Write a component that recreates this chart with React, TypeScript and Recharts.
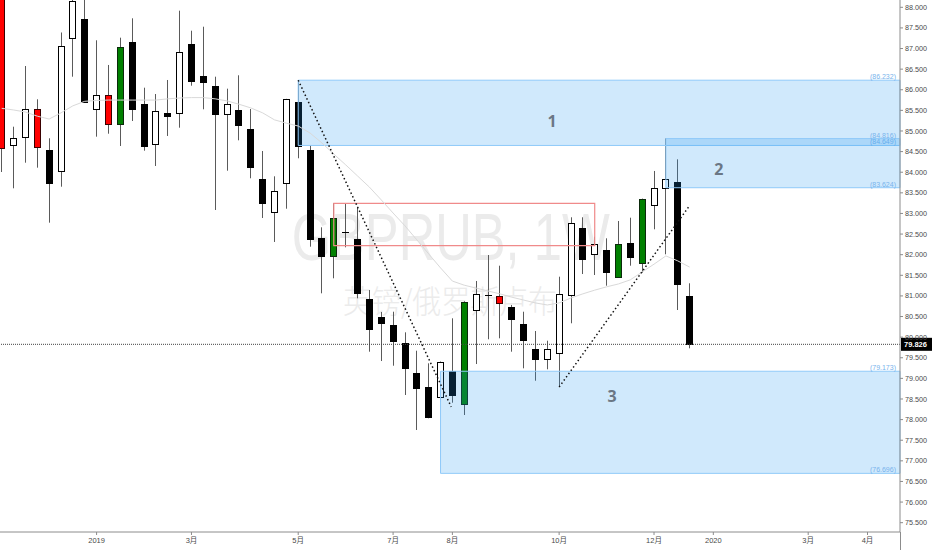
import React from 'react';
import {
  ComposedChart,
  Bar,
  Line,
  XAxis,
  YAxis,
  ReferenceArea,
  ReferenceLine,
  ReferenceDot,
} from 'recharts';

const W = 932;
const H = 550;

// ---- weekly candles (index 0 .. 58) ----
const opens = [
  89.0, 84.653, 84.854, 85.533, 84.546, 84.022, 87.248, 87.709, 85.533, 85.88,
  85.162, 87.151, 85.662, 84.684, 85.444, 85.436, 87.11, 86.326, 86.084, 85.405,
  85.509, 85.048, 83.828, 83.035, 83.746, 85.71, 84.546, 82.397, 81.975, 82.55,
  82.38, 80.932, 80.496, 80.287, 79.865, 79.13, 78.798, 78.541, 79.173, 78.378,
  80.658, 81.03, 81.005, 80.724, 80.319, 79.712, 79.47, 79.623, 81.022, 82.64,
  82.017, 82.114, 81.466, 82.283, 81.791, 83.198, 83.624, 83.763, 80.998,
];
const highs = [
  89.3, 85.104, 86.576, 85.769, 84.823, 87.389, 88.4, 88.4, 87.2, 86.601,
  87.263, 87.733, 86.05, 85.897, 86.237, 87.918, 87.432, 87.529, 86.317, 86.026,
  86.351, 85.533, 84.515, 83.901, 85.78, 86.232, 84.66, 82.664, 83.246, 83.229,
  83.164, 81.143, 80.61, 80.617, 80.117, 79.671, 79.365, 79.41, 80.457, 80.87,
  81.362, 81.992, 81.733, 80.78, 80.617, 80.149, 79.914, 81.466, 82.907, 82.907,
  82.436, 82.397, 82.817, 82.897, 83.36, 84.03, 84.816, 84.313, 81.306,
];
const lows = [
  84.005, 83.61, 84.231, 84.11, 82.776, 83.649, 86.317, 85.69, 84.862, 84.934,
  84.636, 85.242, 84.522, 84.151, 84.879, 85.08, 86.098, 85.526, 83.084, 84.037,
  84.774, 83.853, 82.89, 82.308, 83.115, 84.338, 82.194, 81.063, 81.427, 82.179,
  80.942, 79.647, 79.421, 79.307, 78.597, 77.748, 78.032, 78.427, 78.41, 78.112,
  79.348, 79.948, 79.972, 79.647, 79.244, 78.943, 79.22, 78.798, 80.336, 81.531,
  81.507, 81.248, 81.46, 81.733, 81.563, 82.616, 82.009, 80.658, 79.729,
];
const closes = [
  84.595, 84.823, 85.526, 84.612, 83.731, 87.069, 88.153, 85.696, 85.88, 85.162,
  87.03, 85.526, 84.636, 85.492, 85.364, 86.909, 86.22, 86.181, 85.405, 85.662,
  85.138, 84.134, 83.253, 83.537, 85.769, 84.643, 82.373, 81.975, 82.897, 82.54,
  81.078, 80.197, 80.336, 79.906, 79.244, 78.774, 78.056, 79.404, 78.597, 80.86,
  81.054, 81.02, 80.821, 80.44, 79.931, 79.47, 79.705, 81.046, 82.761, 81.888,
  82.252, 81.573, 82.259, 81.951, 83.35, 83.617, 83.836, 81.282, 79.826,
];
const movingAverage = [
  85.55, 85.51, 85.46, 85.36, 85.29, 85.44, 85.61, 85.72, 85.74, 85.75,
  85.75, 85.75, 85.75, 85.75, 85.78, 85.8, 85.81, 85.81, 85.78, 85.73,
  85.65, 85.56, 85.44, 85.27, 85.19, 85.12, 84.95, 84.71, 84.44, 84.18,
  83.91, 83.64, 83.33, 83.01, 82.7, 82.36, 82.02, 81.68, 81.36, 81.26,
  81.19, 81.12, 81.05, 80.97, 80.9, 80.83, 80.78, 80.83, 80.95, 81.05,
  81.14, 81.22, 81.29, 81.39, 81.58, 81.77, 81.97, 81.85, 81.7,
];
// candle colouring (style list, separate from the values)
const candleTones = [
  'r', 'w', 'w', 'r', 'b', 'w', 'w', 'b', 'w', 'r',
  'g', 'b', 'b', 'w', 'b', 'w', 'b', 'b', 'b', 'w',
  'b', 'b', 'b', 'w', 'w', 'b', 'b', 'b', 'g', 'w',
  'b', 'b', 'b', 'b', 'b', 'b', 'b', 'w', 'b', 'g',
  'w', 'w', 'r', 'b', 'b', 'b', 'w', 'w', 'w', 'b',
  'w', 'b', 'g', 'b', 'g', 'w', 'w', 'b', 'b',
];

// ---- axes ----
const xTickIndex = [8, 16, 25, 33, 38, 47, 55, 60, 68, 73];
const xTickLabels = ['2019', '3月', '5月', '7月', '8月', '10月', '12月', '2020', '3月', '4月'];
const yTicks = [
  75.5, 76, 76.5, 77, 77.5, 78, 78.5, 79, 79.5, 80, 80.5, 81, 81.5,
  82, 82.5, 83, 83.5, 84, 84.5, 85, 85.5, 86, 86.5, 87, 87.5, 88,
];
const X_DOMAIN: [number, number] = [-0.143, 75.74];
const Y_DOMAIN: [number, number] = [75.274, 88.177];

// ---- drawings ----
const zoneStarts = [25, 56, 37];
const zoneTops = [86.232, 84.816, 79.173];
const zoneBottoms = [84.649, 83.624, 76.696];
const zoneNames = ['1', '2', '3'];
const zoneNameX = [46.4, 60.46, 51.46];
const zoneNameY = [85.24, 84.07, 78.57];
const redBoxX = [28, 50];
const redBoxY = [82.218, 83.246];
const trendDown = [
  { x: 25, y: 86.232 },
  { x: 37.9, y: 78.31 },
];
const trendUp = [
  { x: 47, y: 78.79 },
  { x: 58, y: 83.19 },
];
const lastPrice = 79.826;

const rows = opens.map((o, i) => ({
  i,
  open: o,
  high: highs[i],
  low: lows[i],
  close: closes[i],
  range: [lows[i], highs[i]],
  ma: movingAverage[i],
}));

const AXIS_FONT = "'Liberation Sans', Arial, 'Noto Sans CJK SC', sans-serif";

const TONE: Record<string, { fill: string; stroke: string }> = {
  w: { fill: '#ffffff', stroke: '#000000' },
  b: { fill: '#000000', stroke: '#000000' },
  g: { fill: '#008000', stroke: '#0b2a0b' },
  r: { fill: '#ff0000', stroke: '#3a0000' },
};

function Candle(props: any) {
  const { x, y, width, height, payload } = props;
  if (!payload || !Number.isFinite(x) || !Number.isFinite(y)) return null;
  const top = Math.min(y, y + height);
  const h = Math.abs(height);
  const { open, close, high, low, i } = payload;
  const k = high > low ? h / (high - low) : 0;
  const py = (v: number) => top + (high - v) * k;
  const cx = x + width / 2;
  const n = Math.floor(cx);
  const tone = TONE[candleTones[i]] || TONE.w;
  const bt = Math.round(py(Math.max(open, close))) + 0.5;
  const bb = Math.round(py(Math.min(open, close))) + 0.5;
  return (
    <g>
      <line x1={n + 0.5} x2={n + 0.5} y1={py(high)} y2={py(low)} stroke="#5a5a5a" strokeWidth={1} />
      {bb - bt < 1.5 ? (
        <line x1={n - 3} x2={n + 4} y1={bt} y2={bt} stroke="#000" strokeWidth={1} />
      ) : (
        <rect x={n - 2.5} y={bt} width={6} height={bb - bt} fill={tone.fill} stroke={tone.stroke} strokeWidth={1} />
      )}
    </g>
  );
}

function ZonePrices(props: any) {
  const vb = props.viewBox || {};
  const { x, y, width, height } = vb;
  if (!Number.isFinite(x)) return null;
  const right = x + width - 4;
  const style = { fontSize: 7, fill: '#78b3ec', fontFamily: AXIS_FONT };
  return (
    <g>
      <text x={right} y={y - 1} textAnchor="end" {...style}>
        ({props.top})
      </text>
      <text x={right} y={y + height - 1} textAnchor="end" {...style}>
        ({props.bottom})
      </text>
    </g>
  );
}

function PriceTag(props: any) {
  const vb = props.viewBox || {};
  if (!Number.isFinite(vb.x)) return null;
  const x0 = vb.x + vb.width;
  const yy = vb.y;
  return (
    <g>
      <rect x={x0 + 1} y={yy - 6.5} width={W - x0 - 1} height={13} fill="#000" />
      <text x={x0 + 4} y={yy + 2.7} fill="#fff" fontSize={7.5} fontWeight={700} fontFamily={AXIS_FONT}>
        {props.text}
      </text>
    </g>
  );
}

export default function App() {
  return (
    <div style={{ position: 'absolute', left: 0, top: 0, width: W, height: H, background: '#fff' }}>
      <svg width={W} height={H} style={{ position: 'absolute', left: 0, top: 0 }}>
        <text
          x={291.7}
          y={260}
          fontSize={67}
          fill="#ebebeb"
          fontFamily="'Liberation Sans', Arial, sans-serif"
          textLength={318}
          lengthAdjust="spacingAndGlyphs"
        >
          GBPRUB, 1W
        </text>
        <text
          x={343}
          y={313}
          fontSize={32}
          fill="#ebebeb"
          fontFamily="'Noto Sans CJK SC', sans-serif"
          fontWeight={300}
          textLength={214}
          lengthAdjust="spacingAndGlyphs"
        >
          英镑/俄罗斯卢布
        </text>
        <line x1={900.5} x2={900.5} y1={532} y2={550} stroke="#8c8c8c" />
      </svg>
      <div style={{ position: 'absolute', left: 0, top: 0 }}>
        <ComposedChart width={W} height={H} data={rows} margin={{ top: 0, right: 0, bottom: 0, left: 0 }}>
          <XAxis
            type="number"
            dataKey="i"
            domain={X_DOMAIN}
            allowDataOverflow
            ticks={xTickIndex}
            interval={0}
            height={18}
            tickSize={3}
            tickMargin={3}
            tickFormatter={(v: number) => {
              const k = xTickIndex.indexOf(v);
              return k >= 0 ? xTickLabels[k] : '';
            }}
            tick={{ fontSize: 7.5, fill: '#4a4a4a', fontFamily: AXIS_FONT }}
            axisLine={{ stroke: '#8c8c8c' }}
            tickLine={{ stroke: '#8c8c8c' }}
          />
          <YAxis
            type="number"
            orientation="right"
            domain={Y_DOMAIN}
            allowDataOverflow
            ticks={yTicks}
            interval={0}
            width={32}
            tickSize={3}
            tickMargin={2}
            tickFormatter={(v: number) => v.toFixed(3)}
            tick={{ fontSize: 7.2, fill: '#4a4a4a', fontFamily: AXIS_FONT }}
            axisLine={{ stroke: '#8c8c8c' }}
            tickLine={{ stroke: '#8c8c8c' }}
          />
          <Line
            dataKey="ma"
            stroke="#d9d9d9"
            strokeWidth={1}
            dot={false}
            activeDot={false}
            isAnimationActive={false}
          />
          <Bar dataKey="range" barSize={8} shape={<Candle />} isAnimationActive={false} />
          {zoneStarts.map((s, k) => (
            <ReferenceArea
              key={'z' + k}
              x1={s}
              x2={X_DOMAIN[1]}
              y1={zoneBottoms[k]}
              y2={zoneTops[k]}
              fill="#2196f3"
              fillOpacity={0.21}
              stroke="#90caf9"
              strokeWidth={1}
              ifOverflow="visible"
              zIndex={350}
              label={<ZonePrices top={zoneTops[k].toFixed(3)} bottom={zoneBottoms[k].toFixed(3)} />}
            />
          ))}
          <ReferenceArea
            x1={redBoxX[0]}
            x2={redBoxX[1]}
            y1={redBoxY[0]}
            y2={redBoxY[1]}
            fill="none"
            fillOpacity={0}
            stroke="#f08a8a"
            strokeWidth={1.2}
            ifOverflow="visible"
            zIndex={350}
          />
          <ReferenceLine
            y={lastPrice}
            stroke="#444"
            strokeDasharray="1 1"
            strokeWidth={1}
            label={<PriceTag text={lastPrice.toFixed(3)} />}
          />
          <ReferenceLine
            segment={trendDown}
            stroke="#111"
            strokeWidth={1.5}
            strokeDasharray="1.5 2.5"
            ifOverflow="visible"
          />
          <ReferenceLine
            segment={trendUp}
            stroke="#111"
            strokeWidth={1.5}
            strokeDasharray="1.5 2.5"
            ifOverflow="visible"
          />
          {zoneNames.map((t, k) => (
            <ReferenceDot
              key={'n' + k}
              x={zoneNameX[k]}
              y={zoneNameY[k]}
              r={0}
              fill="none"
              stroke="none"
              label={{
                value: t,
                position: 'center',
                fontSize: 16,
                fontWeight: 700,
                fill: '#6b7785',
                fontFamily: "'Open Sans', Arial, sans-serif",
              }}
            />
          ))}
        </ComposedChart>
      </div>
    </div>
  );
}
